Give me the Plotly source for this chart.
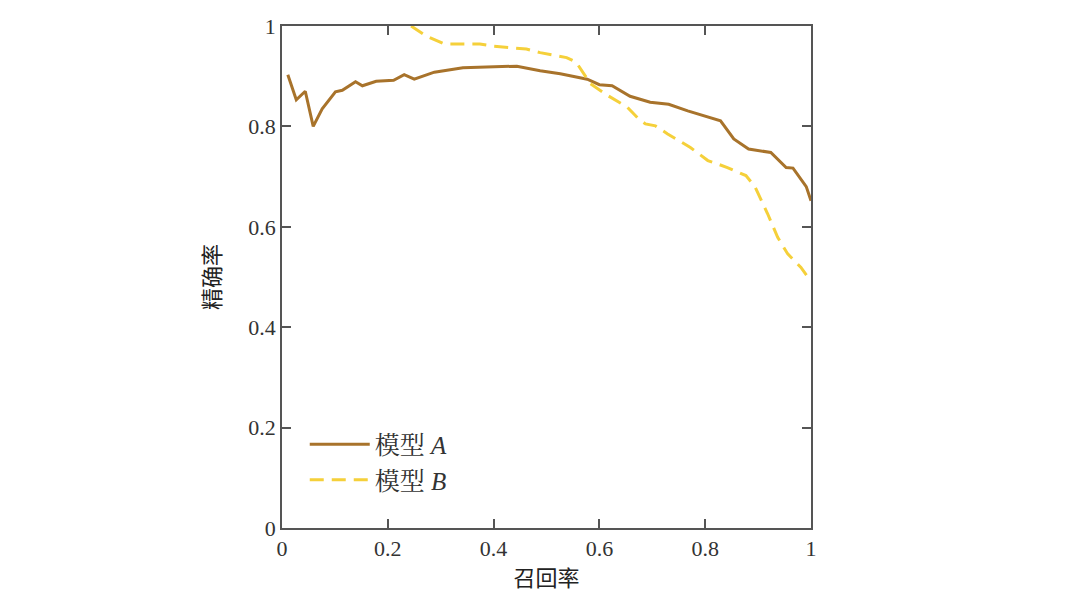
import plotly.graph_objects as go

# 模型 A
recall_a = [0.011, 0.027, 0.044, 0.059, 0.076, 0.101, 0.114, 0.139, 0.152, 0.178,
            0.211, 0.231, 0.250, 0.288, 0.342, 0.398, 0.444, 0.488, 0.526, 0.577,
            0.600, 0.624, 0.658, 0.696, 0.731, 0.767, 0.805, 0.829, 0.854, 0.882,
            0.924, 0.953, 0.966, 0.991, 1.0]
precision_a = [0.903, 0.853, 0.870, 0.800, 0.835, 0.869, 0.872, 0.889, 0.881, 0.890,
               0.892, 0.903, 0.894, 0.908, 0.917, 0.918, 0.920, 0.911, 0.905, 0.894,
               0.883, 0.881, 0.860, 0.848, 0.844, 0.831, 0.818, 0.811, 0.775, 0.755,
               0.748, 0.718, 0.717, 0.680, 0.652]

# 模型 B
recall_b = [0.244, 0.273, 0.307, 0.330, 0.374, 0.398, 0.424, 0.462, 0.488, 0.538,
            0.556, 0.567, 0.583, 0.615, 0.653, 0.674, 0.687, 0.706, 0.729, 0.772,
            0.805, 0.842, 0.877, 0.894, 0.918, 0.937, 0.956, 0.981, 1.0]
precision_b = [1.0, 0.980, 0.964, 0.964, 0.964, 0.960, 0.957, 0.954, 0.947, 0.937,
               0.928, 0.911, 0.885, 0.862, 0.838, 0.815, 0.805, 0.801, 0.785, 0.758,
               0.732, 0.718, 0.702, 0.680, 0.626, 0.579, 0.546, 0.519, 0.491]

tick_vals = [0, 0.2, 0.4, 0.6, 0.8, 1]
tick_text = ["0", "0.2", "0.4", "0.6", "0.8", "1"]

serif = "Liberation Serif, Noto Serif CJK SC, Noto Sans CJK SC, serif"

fig = go.Figure()
fig.add_trace(go.Scatter(x=recall_a, y=precision_a, mode="lines", name="模型 <i>A</i>",
                         legendgroup="a",
                         line=dict(color="#A8732B", width=3)))
fig.add_trace(go.Scatter(x=recall_b, y=precision_b, mode="lines", name="模型 <i>B</i>",
                         legendgroup="b",
                         line=dict(color="#F5D03A", width=3, dash="14px,8px")))

axis_style = dict(range=[0, 1], tickvals=tick_vals, ticktext=tick_text,
                  showgrid=False, zeroline=False, showline=True, linecolor="#555",
                  linewidth=1.5, mirror="ticks", ticks="inside", ticklen=9,
                  tickcolor="#555", tickwidth=1.5, automargin=False,
                  ticklabeloverflow="allow",
                  tickfont=dict(family=serif, size=22, color="#333"))

fig.update_xaxes(**axis_style,
                 title=dict(text="召回率", standoff=10,
                            font=dict(family="Noto Sans CJK SC", size=22, color="#222")))
fig.update_yaxes(**axis_style,
                 title=dict(text="精确率", standoff=22,
                            font=dict(family="Noto Sans CJK SC", size=22, color="#222")))

# the page adds some body margin, so the margins are shifted by that
fig.update_layout(
    width=1089, height=602,
    margin=dict(l=274, r=286, t=18, b=82),
    plot_bgcolor="white", paper_bgcolor="white",
    showlegend=True,
    legend=dict(x=0.043, y=0.212, xanchor="left", yanchor="top",
                bgcolor="rgba(0,0,0,0)", tracegroupgap=0, itemwidth=60,
                font=dict(family=serif, size=25, color="#333")),
)

fig.write_html("out.html")
